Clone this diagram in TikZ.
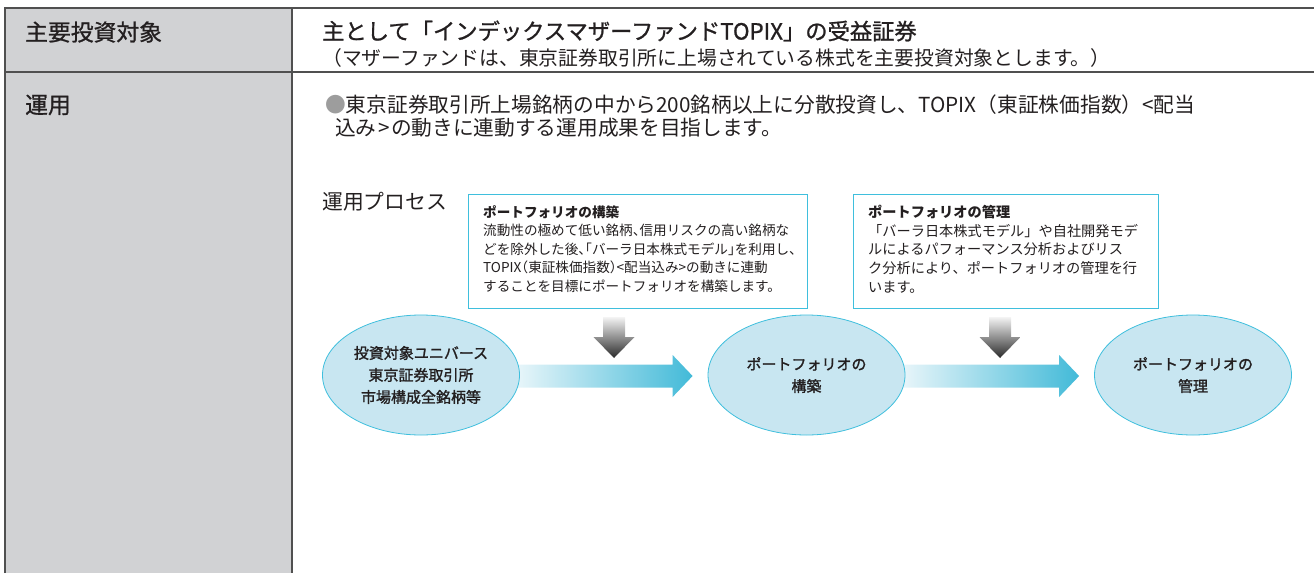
\documentclass[tikz,border=0pt]{standalone}
\usepackage{fontspec}
\setmainfont{Noto Sans CJK JP}
\newfontfamily\jpmed{Noto Sans CJK JP}[FakeBold=1.0]
\newfontfamily\jpsemi{Noto Sans CJK JP}[FakeBold=1.5]
\newfontfamily\jphalt{Noto Sans CJK JP}[RawFeature=+halt]
\usetikzlibrary{shapes.geometric,calc,backgrounds}
\definecolor{colG}{HTML}{D1D2D4}
\definecolor{lineG}{HTML}{505050}
\definecolor{cyanB}{HTML}{3FBFDD}
\definecolor{ellF}{HTML}{C8E6F1}
\definecolor{arrL}{HTML}{EAF6FA}
\definecolor{arrR}{HTML}{42BAD8}
\definecolor{gTop}{HTML}{F4F4F4}
\definecolor{gBot}{HTML}{2A2A2A}
\definecolor{txt}{HTML}{231F20}
\definecolor{bulG}{HTML}{9D9D9D}
\begin{document}
\begin{tikzpicture}[x=1pt,y=-1pt,
  tline/.style={draw=lineG, line width=1.3pt},
  lbl/.style={anchor=west, inner sep=0pt, text=txt},
  para/.style={anchor=north west, inner sep=0pt, text=txt, align=left},
  infobox/.style={draw=cyanB, line width=1.3pt, fill=white, anchor=north west, inner sep=0pt},
  ell/.style={ellipse, draw=cyanB, line width=0.8pt, fill=ellF, minimum width=197pt, minimum height=120pt, inner sep=0pt, align=center, text=txt, font=\jpsemi\fontsize{15}{22}\selectfont}
]
\useasboundingbox (0,0) rectangle (1314,573);
% table
\fill[colG] (5,8) rectangle (292,573);
\draw[tline] (5,573) -- (5,8) -- (1314,8);
\draw[tline] (5,72) -- (1314,72);
\draw[tline] (292,8) -- (292,573);
% left labels
\node[lbl, font=\jpmed\fontsize{22.8}{26}\selectfont] (k1) at (25,32) {主要投資対象};
\node[lbl, font=\jpmed\fontsize{22.8}{26}\selectfont] (k2) at (25,105) {運用};
% row 1
\node[lbl, font=\jpmed\fontsize{22.3}{26}\selectfont] (t1) at (322,31) {主として「インデックスマザーファンドTOPIX」の受益証券};
\node[lbl, font=\fontsize{19.8}{23}\selectfont] (t2) at (322,58) {（マザーファンドは、東京証券取引所に上場されている株式を主要投資対象とします。）};
% row 2
\node[lbl, font=\fontsize{20.7}{23}\selectfont] (u1) at (325,105) {\textcolor{bulG}{●}東京証券取引所上場銘柄の中から200銘柄以上に分散投資し、TOPIX（東証株価指数）<配当};
\node[lbl, font=\fontsize{20.7}{23}\selectfont] (u2) at (335,128) {込み\kern1.5pt>\kern1.5pt の動きに連動する運用成果を目指します。};
\node[lbl, font=\fontsize{20.8}{24}\selectfont] (p0) at (322,202) {運用プロセス};
% info boxes
\node[infobox, minimum width=339pt, minimum height=114pt] (b1) at (468,194) {};
\node[infobox, minimum width=305pt, minimum height=114pt] (b2) at (853,194) {};
\node[para, font=\jphalt\fontsize{13.6}{18.6}\selectfont] (bt1) at ($(b1.north west)+(15,11)$) {\textbf{ポートフォリオの構築}\\流動性の極めて低い銘柄、信用リスクの高い銘柄な\\どを除外した後、「バーラ日本株式モデル」を利用し、\\TOPIX（東証株価指数）<配当込み>の動きに連動\\することを目標にポートフォリオを構築します。};
\node[para, font=\fontsize{14.2}{18.6}\selectfont] (bt2) at ($(b2.north west)+(15,11)$) {\textbf{ポートフォリオの管理}\\「バーラ日本株式モデル」や自社開発モデ\\ルによるパフォーマンス分析およびリス\\ク分析により、ポートフォリオの管理を行\\います。};
% ellipses
\node[ell] (e1) at (421,375) {投資対象ユニバース\\東京証券取引所\\市場構成全銘柄等};
\node[ell] (e2) at (806.5,375) {ポートフォリオの\\構築};
\node[ell] (e3) at (1193,375) {ポートフォリオの\\管理};
% gray arrows
\coordinate (g1) at (614,317);
\coordinate (g2) at (1000,317);
\foreach \g in {g1,g2}{
  \shade[top color=gTop, bottom color=gBot] ($(\g)+(-11,0)$) -- ($(\g)+(11,0)$) -- ($(\g)+(11,20)$) -- ($(\g)+(20.5,20)$) -- ($(\g)+(0,41)$) -- ($(\g)+(-20.5,20)$) -- ($(\g)+(-11,20)$) -- cycle;
}
% cyan arrows
\begin{scope}[on background layer]
\coordinate (a1s) at ($(e1.east)+(-5,1)$);
\coordinate (a1t) at ($(e2.west)+(-15,1)$);
\coordinate (a2s) at ($(e2.east)+(-5,1)$);
\coordinate (a2t) at ($(e3.west)+(-15,1)$);
\foreach \s/\t in {a1s/a1t,a2s/a2t}{
  \shade[left color=arrL, right color=arrR] ($(\s)+(0,-11.5)$) -- ($(\t)+(-20,-11.5)$) -- ($(\t)+(-20,-21)$) -- (\t) -- ($(\t)+(-20,21)$) -- ($(\t)+(-20,11.5)$) -- ($(\s)+(0,11.5)$) -- cycle;
}
\end{scope}
\end{tikzpicture}
\end{document}
